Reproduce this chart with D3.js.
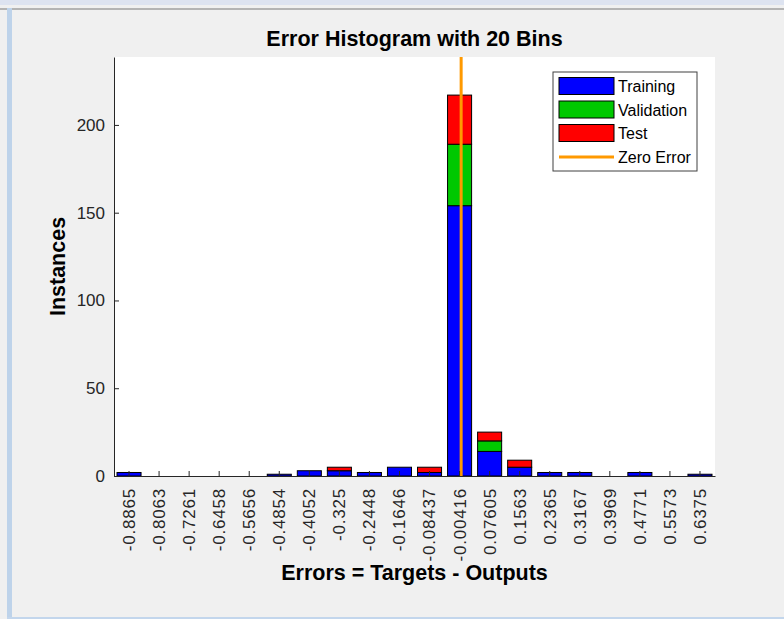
<!DOCTYPE html>
<html>
<head>
<meta charset="utf-8">
<script src="https://cdn.jsdelivr.net/npm/d3@7"></script>
<style>
  html, body { margin: 0; padding: 0; background: #f0f0f0; }
  svg { display: block; font-family: "Liberation Sans", Arial, sans-serif; }
</style>
</head>
<body>
<div id="chart"></div>
<script>
// bin centres as printed under the axis
var binLabels = ['-0.8865','-0.8063','-0.7261','-0.6458','-0.5656','-0.4854','-0.4052','-0.325',
  '-0.2448','-0.1646','-0.08437','-0.00416','0.07605','0.1563','0.2365','0.3167','0.3969',
  '0.4771','0.5573','0.6375'];
var training   = [2,0,0,0,0,1,3,3,2,5,2,154,14,5,2,2,0,2,0,1];
var validation = [0,0,0,0,0,0,0,0,0,0,0,35,6,0,0,0,0,0,0,0];
var test       = [0,0,0,0,0,0,0,2,0,0,3,28,5,4,0,0,0,0,0,0];
var yTicks = [0,50,100,150,200];
var seriesNames = ['Training','Validation','Test'];
var seriesColors = ['#0000ff','#00c800','#ff0000'];

var w = 784, h = 619;
// plot box (window.top is taken, so p-prefixed)
var pLeft = 114, pRight = 715, pTop = 57, pBottom = 476;

var svg = d3.select('#chart').append('svg')
    .attr('width', w)
    .attr('height', h);

// window frame bits
svg.append('rect').attr('x',0).attr('y',0).attr('width',w).attr('height',5).attr('fill','#dde3f0');
svg.append('rect').attr('x',0).attr('y',8).attr('width',w).attr('height',2).attr('fill','#b4b4b4');
svg.append('rect').attr('x',7).attr('y',8).attr('width',5).attr('height',h-8).attr('fill','#bed3ea');
svg.append('rect').attr('x',7).attr('y',h-2).attr('width',w-7).attr('height',2).attr('fill','#c3d6ec');

// plot background
svg.append('rect')
    .attr('x', pLeft).attr('y', pTop)
    .attr('width', pRight - pLeft).attr('height', pBottom - pTop)
    .attr('fill', '#ffffff');

var rows = binLabels.map(function(b, i) {
  return { bin: b, training: training[i], validation: validation[i], test: test[i] };
});
var totals = rows.map(function(r) { return r.training + r.validation + r.test; });

var x = d3.scaleBand()
    .domain(binLabels)
    .range([pLeft, pRight])
    .paddingInner(0.2)
    .paddingOuter(0.1);

var y = d3.scaleLinear()
    .domain([0, d3.max(totals) * 1.1])
    .range([pBottom, pTop]);

// value -> pixel along x, using the bin centres
var xv = d3.scaleLinear()
    .domain([+binLabels[0], +binLabels[binLabels.length - 1]])
    .range([x(binLabels[0]) + x.bandwidth() / 2, x(binLabels[binLabels.length - 1]) + x.bandwidth() / 2]);

var stack = d3.stack().keys(['training','validation','test']);
var layers = stack(rows);

svg.append('g').selectAll('g')
    .data(layers)
  .enter().append('g')
    .attr('fill', function(d, i) { return seriesColors[i]; })
  .selectAll('rect')
    .data(function(d) { return d.filter(function(s) { return s[1] > s[0]; }); })
  .enter().append('rect')
    .attr('x', function(d) { return x(d.data.bin); })
    .attr('y', function(d) { return y(d[1]); })
    .attr('width', x.bandwidth())
    .attr('height', function(d) { return y(d[0]) - y(d[1]); })
    .attr('stroke', '#000')
    .attr('stroke-width', 1);

// zero error line
svg.append('line')
    .attr('x1', xv(0)).attr('x2', xv(0))
    .attr('y1', pTop).attr('y2', pBottom)
    .attr('stroke', '#ff9900')
    .attr('stroke-width', 3);

// axes
var yAxis = svg.append('g')
    .attr('transform', 'translate(' + pLeft + ',0)')
    .call(d3.axisLeft(y).tickValues(yTicks).tickSizeInner(-5).tickSizeOuter(0).tickPadding(9));
yAxis.selectAll('text')
    .attr('font-size', 17)
    .attr('fill', '#262626');

var xAxis = svg.append('g')
    .attr('transform', 'translate(0,' + pBottom + ')')
    .call(d3.axisBottom(x).tickSizeInner(-5).tickSizeOuter(0));
xAxis.selectAll('text')
    .attr('transform', 'rotate(-90)')
    .attr('text-anchor', 'end')
    .attr('x', -12)
    .attr('y', 0)
    .attr('dy', '0.35em')
    .attr('font-size', 17)
    .attr('letter-spacing', 0.8)
    .attr('fill', '#262626');
[yAxis, xAxis].forEach(function(a) {
  a.select('.domain').attr('stroke', '#262626');
  a.selectAll('.tick line').attr('stroke', '#262626');
});

// titles
svg.append('text')
    .attr('x', (pLeft + pRight) / 2).attr('y', 46)
    .attr('text-anchor', 'middle')
    .attr('font-size', 21.5).attr('font-weight', 'bold')
    .text('Error Histogram with 20 Bins');

svg.append('text')
    .attr('x', (pLeft + pRight) / 2).attr('y', 580)
    .attr('text-anchor', 'middle')
    .attr('font-size', 21.5).attr('font-weight', 'bold')
    .text('Errors = Targets - Outputs');

svg.append('text')
    .attr('transform', 'translate(65,' + ((pTop + pBottom) / 2) + ') rotate(-90)')
    .attr('text-anchor', 'middle')
    .attr('font-size', 21.5).attr('font-weight', 'bold')
    .text('Instances');

// legend
var lg = svg.append('g').attr('transform', 'translate(553,72)');
lg.append('rect')
    .attr('width', 144).attr('height', 99)
    .attr('fill', '#fff').attr('stroke', '#404040');
var items = seriesNames.concat(['Zero Error']);
var item = lg.selectAll('.item')
    .data(items)
  .enter().append('g')
    .attr('class', 'item')
    .attr('transform', function(d, i) { return 'translate(0,' + (5.5 + i * 23.5) + ')'; });
item.filter(function(d, i) { return i < 3; }).append('rect')
    .attr('x', 6).attr('y', 0)
    .attr('width', 55).attr('height', 17)
    .attr('fill', function(d, i) { return seriesColors[i]; })
    .attr('stroke', '#000');
item.filter(function(d, i) { return i === 3; }).append('line')
    .attr('x1', 6).attr('x2', 61)
    .attr('y1', 9).attr('y2', 9)
    .attr('stroke', '#ff9900').attr('stroke-width', 3);
item.append('text')
    .attr('x', 65).attr('y', 9)
    .attr('dy', '0.35em')
    .attr('font-size', 16)
    .attr('fill', '#000')
    .text(function(d) { return d; });
</script>
</body>
</html>
